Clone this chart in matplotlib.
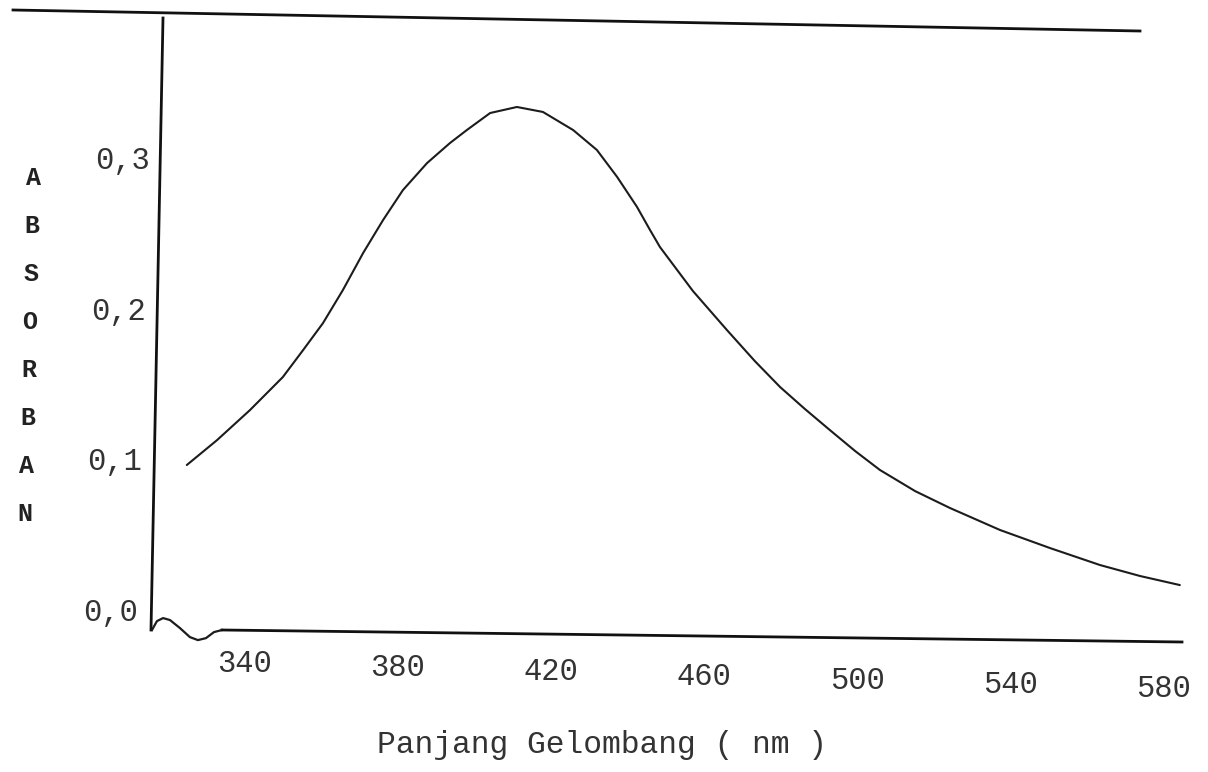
import matplotlib
matplotlib.use("Agg")
import matplotlib.pyplot as plt
from matplotlib.lines import Line2D
from matplotlib.transforms import blended_transform_factory

# ---- data ----
wavelength = [324.8, 332.7, 341.3, 349.9, 355.2, 360.4, 365.6, 370.9, 376.1,
              381.3, 387.6, 393.6, 398.0, 404.1, 411.1, 417.9, 425.8, 432.0,
              437.3, 442.5, 445.9, 448.5, 457.1, 466.0, 473.3, 479.9, 486.4,
              492.9, 499.5, 506.0, 515.2, 524.3, 537.4, 550.5, 563.5, 574.0,
              584.4]
absorbance = [0.0993, 0.1158, 0.1357, 0.1576, 0.1755, 0.1934, 0.2153, 0.2399,
              0.2617, 0.2816, 0.2995, 0.3128, 0.3214, 0.3327, 0.3367, 0.3334,
              0.3214, 0.3082, 0.2903, 0.2704, 0.2551, 0.2438, 0.2147, 0.1888,
              0.1682, 0.1510, 0.1364, 0.1225, 0.1086, 0.0960, 0.0820, 0.0708,
              0.0562, 0.0442, 0.0330, 0.0257, 0.0197]

# instrument baseline wiggle near the origin
base_wl = [315.7, 317.0, 318.6, 320.4, 323.0, 325.6, 327.7, 329.8, 331.9, 334.0]
base_abs = [-0.0101, -0.0042, -0.0022, -0.0035, -0.0088, -0.0148, -0.0168,
            -0.0155, -0.0115, -0.0101]

x_ticks = [340, 380, 420, 460, 500, 540, 580]
x_tick_labels = ["340", "380", "420", "460", "500", "540", "580"]
y_ticks = [0.0, 0.1, 0.2, 0.3]
y_tick_labels = ["0,0", "0,1", "0,2", "0,3"]
y_title_letters = ["A", "B", "S", "O", "R", "B", "A", "N"]
x_title = "Panjang Gelombang ( nm )"

W, H = 1208, 772
fig = plt.figure(figsize=(W / 100, H / 100), dpi=100)
fig.patch.set_facecolor("white")


def fx(px):
    return px / W


def fy(py):
    return 1 - py / H


# axes region in pixels: left 152, right 1185, top 18, bottom 630
ax = fig.add_axes([fx(152), fy(630), fx(1185) - fx(152), fy(18) - fy(630)])
ax.set_xlim(315.7, 585.75)
ax.set_ylim(-0.0101, 0.3957)
ax.set_axis_off()

mono = "Liberation Mono"

# curve
ax.plot(wavelength, absorbance, color="#1c1c1c", lw=1.5,
        solid_capstyle="round", solid_joinstyle="round")
ax.plot(base_wl, base_abs, color="#1c1c1c", lw=1.6, clip_on=False,
        solid_joinstyle="round")

# hand-drawn axis frame (slightly slanted as in the scan)
frame = [((13, 10), (1140, 31)),    # top line
         ((163, 18), (151, 630)),   # left axis
         ((222, 630), (1182, 642))]  # bottom axis
for (x0, y0), (x1, y1) in frame:
    fig.add_artist(Line2D([fx(x0), fx(x1)], [fy(y0), fy(y1)],
                          transform=fig.transFigure, color="#111111", lw=2.0))

# x tick labels (typed, following the slant of the page)
tx = blended_transform_factory(ax.transData, fig.transFigure)
for v, lab in zip(x_ticks, x_tick_labels):
    ypx = 664 + 0.105 * (v - 340)
    ax.text(v, fy(ypx), lab, transform=tx, ha="center", va="center",
            family=mono, fontsize=22, color="#333333")

# y tick labels
ty = blended_transform_factory(fig.transFigure, ax.transData)
for v, lab in zip(y_ticks, y_tick_labels):
    xpx = 83 + 40.0 * v
    ax.text(fx(xpx), v + 0.001, lab, transform=ty, ha="left", va="center",
            family=mono, fontsize=22, color="#333333")

# vertical stacked y title
for i, ch in enumerate(y_title_letters):
    fig.text(fx(33 - 1.1 * i), fy(178 + 48 * i), ch, ha="center", va="center",
             family=mono, fontsize=18, fontweight="bold", color="#222222")

# x title
fig.text(fx(602), fy(745), x_title, ha="center", va="center",
         family=mono, fontsize=22.5, color="#333333")

fig.savefig("out.png", dpi=100, facecolor="white")
